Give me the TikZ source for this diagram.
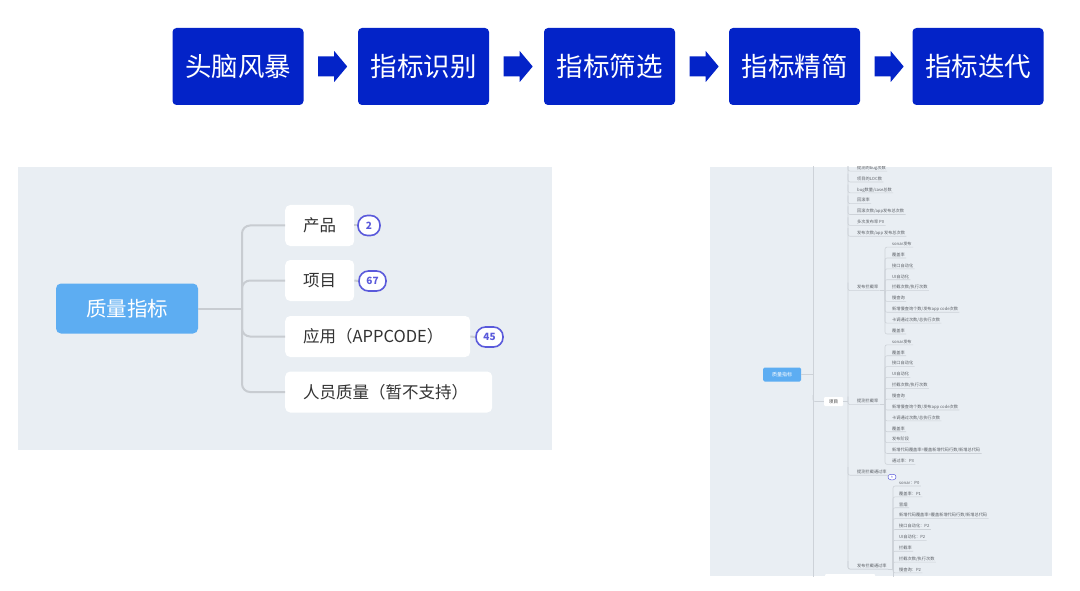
\documentclass[tikz,border=0pt]{standalone}
\usepackage{fontspec}
\setmainfont{Noto Sans CJK SC}
\usetikzlibrary{calc}
\definecolor{topblue}{HTML}{0323C8}
\definecolor{rootblue}{HTML}{5DADF2}
\definecolor{panelbg}{HTML}{E9EEF3}
\definecolor{conngray}{HTML}{C8CCD1}
\definecolor{badgeblue}{HTML}{5A5ADB}
\definecolor{darktext}{HTML}{333333}
\definecolor{leafgray}{HTML}{5C6066}
\definecolor{linegray}{HTML}{CDD2D8}
\tikzset{
 topbox/.style={fill=topblue, rounded corners=4pt, minimum width=131pt, minimum height=77pt, text=white, font=\fontsize{26.5}{30}\selectfont, inner sep=0pt},
 flowarrow/.style={fill=topblue},
 rootnode/.style={fill=rootblue, rounded corners=5pt, minimum width=142pt, minimum height=50pt, text=white, font=\fontsize{20.5}{24}\selectfont, inner sep=0pt},
 childnode/.style={fill=white, rounded corners=5pt, minimum height=41pt, inner xsep=18pt, inner ysep=0pt, anchor=west, align=left, text=darktext, font=\fontsize{16.5}{20}\selectfont},
 conn/.style={draw=conngray, line width=2pt},
 badge/.style={draw=badgeblue, fill=white, line width=1.6pt, rounded corners=9.5pt, minimum height=20pt, inner sep=0pt, text=badgeblue, font=\fontsize{10}{12}\selectfont\bfseries},
 rroot/.style={fill=rootblue, rounded corners=1.5pt, minimum width=38pt, minimum height=14pt, inner sep=0pt, text=white, font=\fontsize{5}{6}\selectfont},
 rproj/.style={fill=white, rounded corners=1pt, minimum width=19pt, minimum height=9pt, inner sep=0pt, text=darktext, font=\fontsize{4.5}{5}\selectfont},
 leaf/.style={anchor=west, inner xsep=1.2pt, inner ysep=0.8pt, text height=3.5pt, text depth=0.7pt, text=leafgray, font=\fontsize{4.2}{5}\selectfont},
 ml/.style={draw=linegray, line width=0.6pt},
 rbadge/.style={draw=badgeblue, fill=white, line width=0.5pt, rounded corners=2.7pt, minimum width=8pt, minimum height=5.5pt, inner sep=0pt, font=\fontsize{3}{3}\selectfont, text=badgeblue}
}
\newcommand\flowarr[1]{%
  \fill[flowarrow] ($(#1.east)+(14.5,-10)$) -- ($(#1.east)+(30.5,-10)$) -- ($(#1.east)+(30.5,-15.5)$) -- ($(#1.east)+(43.5,0)$) -- ($(#1.east)+(30.5,15.5)$) -- ($(#1.east)+(30.5,10)$) -- ($(#1.east)+(14.5,10)$) -- cycle;}
% level-one leaf: name, x, y, text, trunk x
\newcommand\rleaf[5]{%
  \node[leaf] (#1) at (#2,#3) {#4};
  \draw[ml,rounded corners=2pt] (#5,#3-5) |- (#1.south east);}
% group child leaf: name, x, y, text, junction
\newcommand\cleaf[5]{%
  \node[leaf] (#1) at (#2,#3) {#4};
  \draw[ml,rounded corners=2pt] (#5) |- (#1.south east);}
\begin{document}
\begin{tikzpicture}[x=1pt,y=-1pt]
\useasboundingbox (0,0) rectangle (1080,591);
\fill[white] (0,0) rectangle (1080,591);

% ---- top flow ----
\node[topbox] (s1) at (238,66.5) {头脑风暴};
\node[topbox] (s2) at (423.5,66.5) {指标识别};
\node[topbox] (s3) at (609.5,66.5) {指标筛选};
\node[topbox] (s4) at (794.5,66.5) {指标精简};
\node[topbox] (s5) at (978,66.5) {指标迭代};
\flowarr{s1}\flowarr{s2}\flowarr{s3}\flowarr{s4}

% ---- left mind map ----
\fill[panelbg] (18,167) rectangle (552,450);
\node[rootnode] (lroot) at (127,308.5) {质量指标};
\node[childnode, text width=33pt] (c1) at (285,225.5) {产品};
\node[childnode, text width=33pt] (c2) at (285,280.5) {项目};
\node[childnode, text width=149pt] (c3) at (285,336.5) {应用（APPCODE）};
\node[childnode, text width=171pt] (c4) at (285,392) {人员质量（暂不支持）};
\coordinate (lt) at (242,308.5);
\draw[conn] (lroot.east) -- (lt);
\foreach \c in {c1,c2,c3,c4} \draw[conn, rounded corners=8pt] (lt) |- (\c.west);
\node[badge, minimum width=22pt] (b1) at (369,225.5) {2};
\node[badge, minimum width=27pt] (b2) at (372.5,281) {67};
\node[badge, minimum width=27pt] (b3) at (489.5,337) {45};
\draw[conn] (c1.east) -- (b1.west);
\draw[conn] (c2.east) -- (b2.west);
\draw[conn] (c3.east) -- (b3.west);

% ---- right mind map (screenshot) ----
\fill[panelbg] (710,167) rectangle (1052,576);
\begin{scope}
\clip (710,167) rectangle (1052,576);
\draw[ml] (813,160) -- (813,580);
\node[rroot] (rroot) at (782,374.5) {质量指标};
\coordinate (mt) at (813,374.5);
\draw[ml] (rroot.east) -- (mt);
\node[rproj] (rproj) at (833.5,401.5) {项目};
\coordinate (mt2) at (813,395);
\draw[ml,rounded corners=2pt] (mt2) |- (rproj.west);
\coordinate (pt) at (848,401.5);
\draw[ml] (rproj.east) -- (pt);

\foreach \txt [count=\i from 0] in {提测的bug次数,项目的LOC数,bug数量/case总数,回滚率,回滚次数/app发布总次数,多次发布率 P0,发布次数/app 发布总次数}
  {\rleaf{r\i}{855.8}{168+10.86*\i}{\txt}{848}}

\rleaf{g1}{855.8}{287.5}{发布拦截率}{848}
\rleaf{g2}{855.8}{401.5}{提测拦截率}{848}
\rleaf{g3}{855.8}{472.1}{提测拦截通过率}{848}
\rleaf{g4}{855.8}{566}{发布拦截通过率}{848}
\draw[ml,rounded corners=2pt] (848,160) |- (g4.south east);

\node[rbadge] (bd) at (892,477) {9};
\draw[ml] (g3.south east) -- (bd.west);

\coordinate (t1) at (885,0);
\coordinate (j1) at (g1.south east -| t1);
\draw[ml] (g1.south east) -- (j1);
\foreach \txt [count=\i from 7] in {sonar发布,覆盖率,接口自动化,UI自动化,拦截次数/执行次数,慢查询,新增慢查询个数/发布app code次数,卡调通过次数/总执行次数,覆盖率}
  {\cleaf{a\i}{890.8}{168+10.86*\i}{\txt}{j1}}

\coordinate (j2) at (g2.south east -| t1);
\draw[ml] (g2.south east) -- (j2);
\foreach \txt [count=\i from 16] in {sonar发布,覆盖率,接口自动化,UI自动化,拦截次数/执行次数,慢查询,新增慢查询个数/发布app code次数,卡调通过次数/总执行次数,覆盖率,发布阶段,新增代码覆盖率=覆盖新增代码行数/新增总代码,通过率：P3}
  {\cleaf{b\i}{890.8}{168+10.86*\i}{\txt}{j2}}

\coordinate (t4) at (893,0);
\coordinate (j4) at (g4.south east -| t4);
\draw[ml] (g4.south east) -- (j4);
\draw[ml] (j4) -- (893,580);
\foreach \txt [count=\i from 29] in {sonar：P0,覆盖率：P1,冒烟,新增代码覆盖率=覆盖新增代码行数/新增总代码,接口自动化：P2,UI自动化：P2,拦截率,拦截次数/执行次数,慢查询：P2}
  {\cleaf{d\i}{897.8}{168+10.86*\i}{\txt}{j4}}

\node[fill=white, rounded corners=1pt, minimum width=50pt, minimum height=11pt, inner sep=0pt] (rapp) at (850,579.5) {};
\end{scope}
\end{tikzpicture}
\end{document}
